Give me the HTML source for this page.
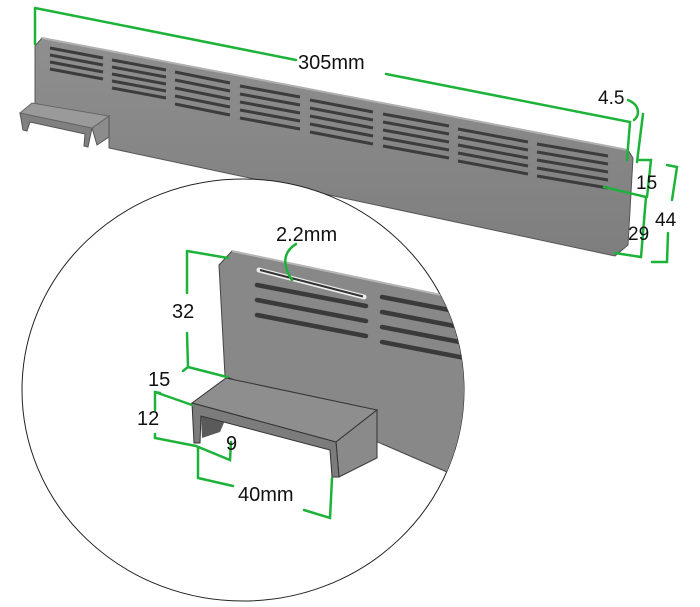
<!DOCTYPE html>
<html><head><meta charset="utf-8"><style>
html,body{margin:0;padding:0;background:#fff;}
svg{display:block;}
text{font-family:"Liberation Sans","DejaVu Sans",sans-serif;fill:#111;}
</style></head><body>
<svg width="700" height="607" viewBox="0 0 700 607" xmlns="http://www.w3.org/2000/svg">
<defs>
<linearGradient id="g1" x1="0" y1="0" x2="0" y2="1"><stop offset="0" stop-color="#8f8f8f"/><stop offset="1" stop-color="#7e7e7e"/></linearGradient>
<clipPath id="cc"><ellipse cx="243" cy="390" rx="221" ry="211"/></clipPath>
</defs>
<!-- top bar -->
<polygon points="35,46 42,38 628,150 633,158 628,245 615,256 109,148 109,120 35,104" fill="url(#g1)" stroke="#555" stroke-width="1"/>
<polyline points="42,38 628,150" stroke="#b0b0b0" stroke-width="2" fill="none"/>
<!-- bracket small -->
<polygon points="20,113 92,128 88,147 84,146 85,134 30,122 27,131 23,130" fill="#808080" stroke="#555"/>
<polygon points="92,128 109,116 109,137 97,145" fill="#8c8c8c" stroke="#555"/>
<polygon points="20,113 32,103 109,116 92,128" fill="#9a9a9a" stroke="#666"/>
<!-- slots -->
<g stroke="#3c3c3c" stroke-width="3">
<path d="M50,48 L103,58 M50,55 L103,65 M50,62 L103,72 M50,69 L103,79
M112,60 L166,70 M112,67 L166,77 M112,74 L166,84 M112,81 L166,91 M112,88 L166,98
M175,72 L230,83 M175,80 L230,91 M175,88 L230,99 M175,96 L230,107 M175,104 L230,115
M240,86 L300,97 M240,94 L300,105 M240,102 L300,113 M240,110 L300,121 M240,118 L300,129
M310,100 L373,112 M310,108 L373,120 M310,116 L373,128 M310,124 L373,136 M310,132 L373,144
M383,114 L449,126 M383,122 L449,134 M383,130 L449,142 M383,138 L449,150 M383,146 L449,158
M458,129 L528,142 M458,137 L528,150 M458,145 L528,158 M458,153 L528,166 M458,161 L528,174
M537,144 L608,156 M537,152 L608,164 M537,160 L608,172 M537,168 L608,180 M537,176 L608,188"/>
</g>
<!-- circle -->
<ellipse cx="243" cy="390" rx="221" ry="211" fill="#fff" stroke="#222" stroke-width="1"/>
<g clip-path="url(#cc)">
<polygon points="219,265 232,251 465,300 470,480 447,472 225,376" fill="#888" stroke="#444"/>
<polyline points="232,251 465,300" stroke="#b5b5b5" stroke-width="2" fill="none"/>
<g stroke="#3a3a3a" stroke-width="4.5" stroke-linecap="round">
<path d="M257,285 L366,306 M257,300 L366,321 M257,315 L366,336"/>
<path d="M382,297 L465,313 M382,312 L465,328 M382,327 L465,343 M382,342 L465,358"/>
</g>
<path d="M259,270 L364,297" stroke="#eee" stroke-width="5" stroke-linecap="round"/>
<path d="M260,270 L363,296.5" stroke="#333" stroke-width="2"/>
</g>
<!-- big bracket -->
<polygon points="192,403 226,378 377,410 336,442" fill="#8e8e8e" stroke="#333"/>
<polygon points="336,442 377,410 377,458 339,477" fill="#8a8a8a" stroke="#333"/>
<polygon points="201,416 330,450 226,416 205,420" fill="#4a4a4a"/>
<polygon points="201,416 226,418 220,432 202,438" fill="#5a5a5a"/>
<polygon points="192,403 336,442 339,477 332,477 330,450 201,416 200,443 194,443" fill="#7c7c7c" stroke="#333"/>
<!-- green dimension lines -->
<g stroke="#1db33a" stroke-width="2.5" fill="none" stroke-linecap="round">
<path d="M35,8 L35,44 M35,8 L296,60 M386,74 L630,122 L627,160"/>
<path d="M628,100 C640,105 640,115 634,120 M643,114 L637,162"/>
<path d="M638,160 L651,160 L647,197 M604,187 L646,197 L641,257 L615,253"/>
<path d="M667,165 L677,167 L672,200 M668,233 L667,262 L652,262"/>
<path d="M187,251 L228,258 M187,251 L187,293 M187,333 L188,367 L227,377 M188,367 L183,371"/>
<path d="M160,393 L155,392 L155,410 M155,392 L192,405 M155,434 L155,438 L196,446 M196,446 L230,460 L231,442"/>
<path d="M198,447 L198,478 L233,486 M304,510 L330,518 L332,478"/>
<path d="M296,244 C283,252 282,265 292,280"/>
</g>
<!-- labels -->
<text x="298" y="69" font-size="20">305mm</text>
<text x="598" y="104" font-size="19">4.5</text>
<text x="636" y="189" font-size="19">15</text>
<text x="628" y="240" font-size="19">29</text>
<text x="655" y="226" font-size="19">44</text>
<text x="276" y="241" font-size="20">2.2mm</text>
<text x="172" y="318" font-size="20">32</text>
<text x="148" y="386" font-size="20">15</text>
<text x="137" y="425" font-size="20">12</text>
<text x="226" y="450" font-size="20">9</text>
<text x="238" y="501" font-size="20">40mm</text>
</svg>
</body></html>
